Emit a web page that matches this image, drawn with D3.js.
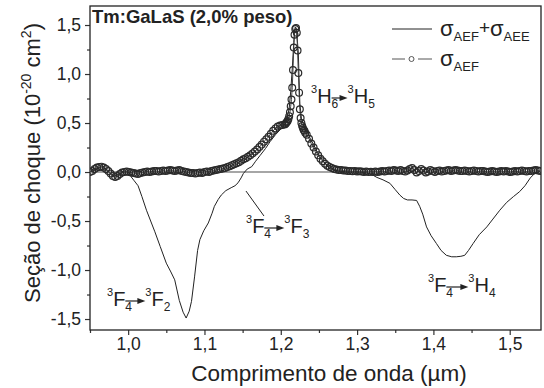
<!DOCTYPE html>
<html>
<head>
<meta charset="utf-8">
<script src="https://cdn.jsdelivr.net/npm/d3@7"></script>
<style>
  body { margin: 0; background: #fff; }
  svg, svg text { font-family: Arial, "Liberation Sans", Arimo, Helvetica, sans-serif; }
  svg { display: block; }
</style>
</head>
<body>
<script>
// sigma AEF + sigma AEE (solid line), wavelength in um
const sumX = [0.950,0.958,0.965,0.972,0.980,0.986,0.993,1.000,1.004,1.008,1.013,1.018,1.024,1.030,1.035,1.042,1.050,1.056,1.061,1.067,1.072,1.076,1.080,1.083,1.087,1.091,1.094,1.099,1.105,1.110,1.113,1.118,1.122,1.128,1.135,1.140,1.144,1.148,1.151,1.156,1.162,1.167,1.173,1.180,1.186,1.193,1.199,1.204,1.208,1.211,1.213,1.215,1.217,1.218,1.219,1.220,1.221,1.223,1.224,1.225,1.227,1.230,1.234,1.238,1.243,1.248,1.252,1.258,1.264,1.270,1.280,1.290,1.300,1.310,1.318,1.326,1.334,1.343,1.350,1.356,1.361,1.366,1.372,1.378,1.382,1.386,1.391,1.397,1.404,1.410,1.417,1.424,1.430,1.436,1.441,1.446,1.452,1.460,1.470,1.478,1.487,1.496,1.505,1.513,1.520,1.527,1.532,1.536,1.540]
const sumY = [0.000,0.030,0.050,0.020,-0.045,-0.030,0.000,0.000,-0.050,-0.090,-0.140,-0.250,-0.390,-0.510,-0.610,-0.760,-0.930,-1.020,-1.100,-1.310,-1.430,-1.490,-1.420,-1.320,-1.070,-0.800,-0.690,-0.600,-0.520,-0.420,-0.350,-0.280,-0.235,-0.190,-0.160,-0.140,-0.110,-0.060,-0.015,0.030,0.055,0.110,0.170,0.240,0.310,0.380,0.430,0.470,0.530,0.650,0.820,1.050,1.320,1.440,1.480,1.470,1.420,1.210,0.950,0.700,0.550,0.480,0.420,0.350,0.280,0.200,0.150,0.090,0.050,0.020,0.005,0.000,0.000,-0.005,-0.020,-0.055,-0.080,-0.115,-0.180,-0.235,-0.270,-0.285,-0.285,-0.290,-0.350,-0.430,-0.560,-0.650,-0.730,-0.800,-0.850,-0.865,-0.865,-0.860,-0.850,-0.800,-0.730,-0.640,-0.560,-0.480,-0.390,-0.310,-0.250,-0.200,-0.140,-0.060,-0.020,0.000,0.005]

// sigma AEF (circles), three sampling segments
const aefLo = [0.000,0.010,0.030,0.045,0.050,0.055,0.045,0.030,0.010,-0.015,
  -0.040,-0.050,-0.040,-0.020,-0.005,0.000,0.005,0.000,-0.005,-0.010,
  -0.015,-0.020,-0.010,-0.005,0.000,0.005,0.000,0.005,0.010,0.010,
  0.005,0.010,0.015,0.010,0.015,0.020,0.015,0.010,0.015,0.020,
  0.010,0.005,0.000,-0.005,-0.010,-0.010,-0.015,-0.010,-0.005,-0.010,
  0.000,0.005,0.000,0.010,0.015,0.020,0.025,0.030,0.035,0.040,
  0.050,0.060,0.070,0.080,0.090,0.100,0.115,0.130,0.140,0.155,
  0.170,0.190,0.210,0.230,0.255,0.280,0.310,0.335,0.360,0.390,
  0.420,0.445,0.465,0.475,0.480,0.485]
const aefPeak = [0.49,0.50,0.51,0.52,0.54,0.57,0.61,0.67,0.74,0.86,1.04,1.27,1.40,1.46,1.47,1.42,1.24,1.01,0.81,0.64,0.55,0.50,0.47,0.45,0.43,0.42,0.40]
const aefHi = [0.38,0.34,0.29,0.25,0.21,0.17,0.135,0.11,0.085,0.065,
  0.05,0.04,0.03,0.025,0.02,0.02,0.015,0.015,0.01,
  0.010,0.008,0.010,0.005,0.008,0.005,0.000,0.005,0.000,0.003,
  0.000,0.005,0.000,0.005,0.010,0.005,0.010,0.015,0.010,0.020,
  0.015,0.010,0.020,0.010,0.005,0.015,0.030,0.040,0.020,-0.005,
  0.010,0.030,0.015,-0.005,0.005,0.020,0.010,0.000,0.010,0.015,
  0.005,0.010,0.015,0.020,0.010,0.015,0.020,0.015,0.010,0.010,
  0.015,0.010,0.005,0.010,0.015,0.010,0.005,0.010,0.010,0.005,
  0.000,0.005,0.010,0.005,0.000,0.005,0.010,0.005,0.010,0.005,
  0.000,0.005,0.010,0.005,0.010,0.015,0.010,0.005,0.010,0.010,
  0.015,0.020,0.015,0.010]
const aefSegs = [[0.950, 0.003, aefLo], [1.206, 0.001, aefPeak], [1.234, 0.003, aefHi]]

const xTicks = [1.0, 1.1, 1.2, 1.3, 1.4, 1.5]
const yTicks = [-1.5, -1.0, -0.5, 0.0, 0.5, 1.0, 1.5]

const width = 544, height = 388
const m = {left: 90, right: 3, top: 6, bottom: 58}
const FONT = 'Arial, "Liberation Sans", Arimo, Helvetica, sans-serif'

const svg = d3.select("body").append("svg")
    .attr("width", width)
    .attr("height", height)

const x = d3.scaleLinear().domain([0.95, 1.541]).range([m.left, width - m.right])
const y = d3.scaleLinear().domain([-1.612, 1.694]).range([height - m.bottom, m.top])

const fmt = (d) => d.toFixed(1).replace(".", ",")

// axes
svg.append("g").attr("transform", `translate(0,${y.range()[0]})`)
    .call(d3.axisBottom(x).tickValues(xTicks).tickSize(5).tickPadding(3).tickFormat(fmt))
svg.append("g").attr("transform", `translate(0,${y.range()[0]})`)
    .call(d3.axisBottom(x).tickValues(d3.range(0.95, 1.54, 0.1)).tickSize(3).tickFormat(""))
svg.append("g").attr("transform", `translate(${m.left},0)`)
    .call(d3.axisLeft(y).tickValues(yTicks).tickSize(5).tickPadding(4).tickFormat(fmt))
svg.append("g").attr("transform", `translate(${m.left},0)`)
    .call(d3.axisLeft(y).tickValues(d3.range(-1.25, 1.6, 0.5)).tickSize(3).tickFormat(""))

svg.selectAll(".domain").remove()
svg.selectAll("g").attr("font-family", FONT)
svg.selectAll(".tick line").attr("stroke", "#333").attr("stroke-width", 1.2)
svg.selectAll(".tick text").style("font-size", "17.5px").attr("fill", "#222")

// frame
svg.append("rect")
    .attr("x", m.left).attr("y", m.top)
    .attr("width", x.range()[1] - m.left).attr("height", y.range()[0] - m.top)
    .attr("fill", "none").attr("stroke", "#222").attr("stroke-width", 1.3)

svg.append("clipPath").attr("id", "clip").append("rect")
    .attr("x", m.left).attr("y", m.top)
    .attr("width", x.range()[1] - m.left).attr("height", y.range()[0] - m.top)

const plot = svg.append("g").attr("clip-path", "url(#clip)")

// zero line
plot.append("line")
    .attr("x1", x(0.95)).attr("x2", x(1.541))
    .attr("y1", y(0)).attr("y2", y(0))
    .attr("stroke", "#888").attr("stroke-width", 1.6)

// solid line
const sumData = sumX.map((d, i) => [d, sumY[i]])
const line = d3.line().x(d => x(d[0])).y(d => y(d[1]))
plot.append("path").datum(sumData)
    .attr("d", line)
    .attr("fill", "none").attr("stroke", "#222").attr("stroke-width", 1)

// circles series
const aefData = []
aefSegs.forEach(([start, step, vals]) => {
    vals.forEach((v, i) => aefData.push([start + i * step, v]))
})
plot.append("path").datum(aefData)
    .attr("d", line)
    .attr("fill", "none").attr("stroke", "#444").attr("stroke-width", 1)
plot.append("g").selectAll("circle")
    .data(aefData)
    .enter()
    .append("circle")
        .attr("cx", d => x(d[0]))
        .attr("cy", d => y(d[1]))
        .attr("r", 3.4)
        .attr("fill", "none")
        .attr("stroke", "#2a2a2a")
        .attr("stroke-width", 1.2)

// axis titles
svg.append("text")
    .attr("x", 329).attr("y", 381)
    .attr("text-anchor", "middle")
    .style("font-size", "22.5px").attr("fill", "#222")
    .text("Comprimento de onda (\u00b5m)")

const yt = svg.append("text")
    .attr("transform", "translate(40,163) rotate(-90)")
    .attr("text-anchor", "middle")
    .style("font-size", "22px").attr("fill", "#222")
yt.append("tspan").text("Seção de choque (10")
yt.append("tspan").attr("dy", -9).style("font-size", "14px").text("-20")
yt.append("tspan").attr("dy", 9).text(" cm")
yt.append("tspan").attr("dy", -9).style("font-size", "14px").text("2")
yt.append("tspan").attr("dy", 9).text(")")

// title inside plot
svg.append("text")
    .attr("x", 92).attr("y", 23)
    .style("font-size", "18.5px").style("font-weight", "bold").attr("fill", "#222")
    .text("Tm:GaLaS (2,0% peso)")

// rich label helper: lays parts one after the other
function richLabel(x0, base, parts) {
    const g = svg.append("g")
    let cx = x0
    parts.forEach(p => {
        if (p.arrow) {
            const ay = base - 5
            g.append("line").attr("x1", cx).attr("x2", cx + p.arrow - 6)
                .attr("y1", ay).attr("y2", ay).attr("stroke", "#222").attr("stroke-width", 1.2)
            g.append("path").attr("d", `M${cx + p.arrow},${ay} l-8,-3 l0,6z`).attr("fill", "#222")
            cx += p.arrow
            return
        }
        const t = g.append("text")
            .attr("x", cx).attr("y", base + (p.dy || 0))
            .style("font-size", (p.size || 20) + "px").attr("fill", "#222")
            .text(p.t)
        if (!p.keep) cx += t.node().getComputedTextLength()
    })
}
const sup = (t) => ({t: t, size: 11, dy: -10})
const sub = (t, keep) => ({t: t, size: 12, dy: 5, keep: keep})

richLabel(311, 103, [sup("3"), {t: "H"}, sub("6", true), {arrow: 16}, sup("3"), {t: "H"}, sub("5")])
richLabel(246, 233, [sup("3"), {t: "F"}, sub("4", true), {arrow: 20}, sup("3"), {t: "F"}, sub("3")])
richLabel(107, 306, [sup("3"), {t: "F"}, sub("4", true), {arrow: 20}, sup("3"), {t: "F"}, sub("2")])
richLabel(428, 292, [sup("3"), {t: "F"}, sub("4", true), {arrow: 22}, sup("3"), {t: "H"}, sub("4")])

// leader line for 3F4->3F3
svg.append("line")
    .attr("x1", x(1.1544)).attr("y1", y(-0.194))
    .attr("x2", x(1.178)).attr("y2", y(-0.449))
    .attr("stroke", "#222").attr("stroke-width", 1)

// legend
const lg = svg.append("g")
lg.append("line").attr("x1", 392).attr("x2", 432).attr("y1", 29).attr("y2", 29)
    .attr("stroke", "#222").attr("stroke-width", 1)
lg.append("line").attr("x1", 392).attr("x2", 405).attr("y1", 59).attr("y2", 59)
    .attr("stroke", "#555").attr("stroke-width", 1)
lg.append("line").attr("x1", 418).attr("x2", 432).attr("y1", 59).attr("y2", 59)
    .attr("stroke", "#555").attr("stroke-width", 1)
lg.append("circle").attr("cx", 411.5).attr("cy", 59).attr("r", 2.5)
    .attr("fill", "#fff").attr("stroke", "#444").attr("stroke-width", 0.9)

richLabel(440, 36, [{t: "σ", size: 22}, {t: "AEF", size: 13, dy: 5}, {t: "+", size: 19, dy: -2}, {t: "σ", size: 22}, {t: "AEE", size: 13, dy: 5}])
richLabel(440, 66, [{t: "σ", size: 22}, {t: "AEF", size: 13, dy: 5}])
</script>
</body>
</html>
